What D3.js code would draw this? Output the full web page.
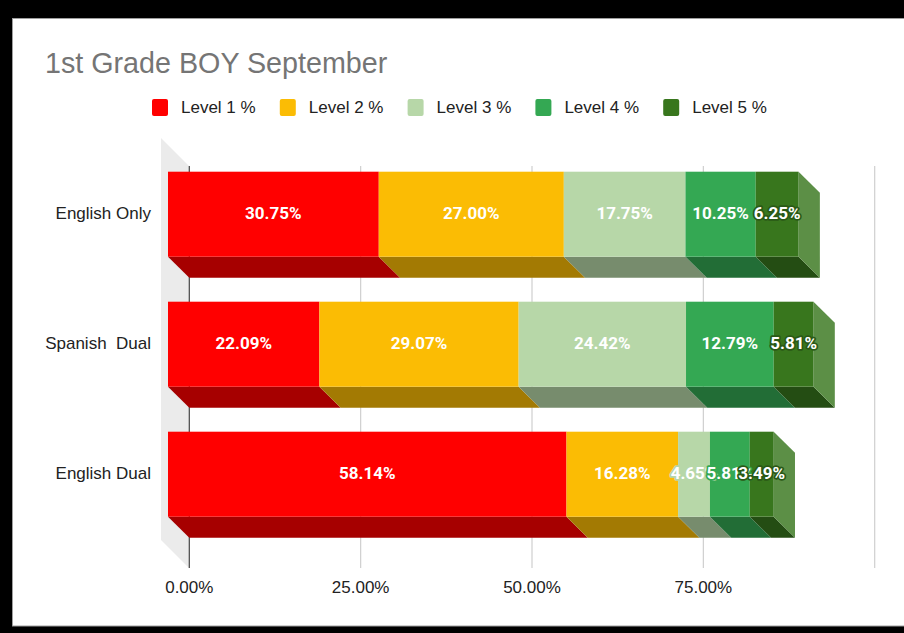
<!DOCTYPE html>
<html>
<head>
<meta charset="utf-8">
<script src="https://cdn.jsdelivr.net/npm/d3@7"></script>
<style>
  body { margin: 0; background: #000; }
  svg { display: block; }
  .title { font-family: "Liberation Sans", Arial, sans-serif; font-size: 28.7px; fill: #757575; }
  .legend text, .catLabel, .tickLabel { font-family: "Liberation Sans", Arial, sans-serif; font-size: 17px; fill: #222; }
  .valueLabel { font-family: Roboto, Arial, sans-serif; font-weight: bold; font-size: 17px; fill: #fff; paint-order: stroke; stroke-width: 3.5px; stroke-linejoin: round; }
</style>
</head>
<body>
<div id="chart"></div>
<script>
// data
const categories = ["English Only", "Spanish  Dual", "English Dual"];
const levels = ["Level 1 %", "Level 2 %", "Level 3 %", "Level 4 %", "Level 5 %"];
const colours = ["#ff0000", "#fbbc04", "#b7d7a8", "#34a853", "#38761d"];
const level1 = [30.75, 22.09, 58.14];
const level2 = [27.00, 29.07, 16.28];
const level3 = [17.75, 24.42, 4.65];
const level4 = [10.25, 12.79, 5.81];
const level5 = [6.25, 5.81, 3.49];
const tickValues = [0, 25, 50, 75, 100];
const tickLabels = ["0.00%", "25.00%", "50.00%", "75.00%", ""];

const series = [level1, level2, level3, level4, level5];

const width = 904, height = 633;
const depthX = 21.3, depthY = 21;   // 3d offset of the bars
const wallDepth = 28;

const svg = d3.select("#chart").append("svg")
  .attr("width", width)
  .attr("height", height);

// white sheet inside the black screenshot border
svg.append("rect")
  .attr("x", 12.5).attr("y", 18.5)
  .attr("width", width)
  .attr("height", 626 - 18.5)
  .style("fill", "#fff")
  .style("stroke", "#9e9e9e")
  .style("stroke-width", 1);

svg.append("text")
  .attr("class", "title")
  .attr("x", 45)
  .attr("y", 73)
  .text("1st Grade BOY September");

// legend
const legend = svg.append("g").attr("class", "legend")
  .selectAll("g")
  .data(levels)
  .enter()
  .append("g")
  .attr("transform", (d, i) => `translate(${152 + i * 127.8}, 99)`);

legend.append("rect")
  .attr("width", 16).attr("height", 17)
  .attr("rx", 2)
  .style("fill", (d, i) => colours[i]);

legend.append("text")
  .attr("x", 29)
  .attr("y", 14)
  .text(d => d);

// scales: x is the front plane of the bars
const x = d3.scaleLinear()
  .domain([0, 100])
  .range([168, 853.4]);

const y = d3.scaleBand()
  .domain(categories)
  .range([145.7, 542.7])
  .paddingInner(45 / 130)
  .paddingOuter(0.2);

const wallTop = y(categories[0]) - 33.7;
const wallBottom = wallTop + 402;

// left wall
const wx = x(0) - 7;
svg.append("path")
  .attr("d", `M${wx},${wallTop} L${wx + wallDepth},${wallTop + wallDepth} L${wx + wallDepth},${wallBottom + wallDepth} L${wx},${wallBottom} Z`)
  .style("fill", "#ebebeb");

// gridlines sit on the back plane
svg.selectAll("line.grid")
  .data(tickValues)
  .enter()
  .append("line")
  .attr("class", "grid")
  .attr("x1", d => x(d) + depthX)
  .attr("x2", d => x(d) + depthX)
  .attr("y1", wallTop + wallDepth)
  .attr("y2", wallBottom + wallDepth)
  .style("stroke", d => d == 0 ? "#444" : "#cfcfcf")
  .style("stroke-width", 1.2);

svg.selectAll("text.tickLabel")
  .data(tickValues)
  .enter()
  .append("text")
  .attr("class", "tickLabel")
  .attr("x", d => x(d) + depthX)
  .attr("y", 593)
  .style("text-anchor", "middle")
  .text((d, i) => tickLabels[i]);

// stacked segments
const segs = [];
categories.forEach((c, ci) => {
  let start = 0;
  series.forEach((s, li) => {
    segs.push({cat: c, level: li, value: s[ci], start: start, end: start + s[ci]});
    start += s[ci];
  });
});

const shade = (col, k) => {
  const c = d3.rgb(col);
  return d3.rgb(c.r * k, c.g * k, c.b * k);
};

const bh = y.bandwidth();

// bottom faces
svg.selectAll("path.bottom")
  .data(segs)
  .enter()
  .append("path")
  .attr("class", "bottom")
  .attr("d", d => {
    const x0 = x(d.start), x1 = x(d.end), yb = y(d.cat) + bh;
    return `M${x0},${yb} L${x1},${yb} L${x1 + depthX},${yb + depthY} L${x0 + depthX},${yb + depthY} Z`;
  })
  .style("fill", d => shade(colours[d.level], 0.65));

// right face of the last segment
svg.selectAll("path.side")
  .data(segs.filter(d => d.level == levels.length - 1))
  .enter()
  .append("path")
  .attr("class", "side")
  .attr("d", d => {
    const x1 = x(d.end), yt = y(d.cat);
    return `M${x1},${yt} L${x1 + depthX},${yt + depthY} L${x1 + depthX},${yt + bh + depthY} L${x1},${yt + bh} Z`;
  })
  .style("fill", d => d3.interpolateRgb(colours[d.level], "#fff")(0.18));

// front faces
svg.selectAll("rect.bar")
  .data(segs)
  .enter()
  .append("rect")
  .attr("class", "bar")
  .attr("x", d => x(d.start))
  .attr("y", d => y(d.cat))
  .attr("width", d => x(d.end) - x(d.start))
  .attr("height", bh)
  .style("fill", d => colours[d.level]);

svg.selectAll("text.catLabel")
  .data(categories)
  .enter()
  .append("text")
  .attr("class", "catLabel")
  .attr("x", 151)
  .attr("y", d => y(d) + bh / 2 - 1)
  .attr("dy", "0.35em")
  .style("text-anchor", "end")
  .style("white-space", "pre")
  .text(d => d);

// labels keep a halo of their own bar colour, as in the sheet
svg.selectAll("text.valueLabel")
  .data(segs)
  .enter()
  .append("text")
  .attr("class", "valueLabel")
  .attr("x", d => (x(d.start) + x(d.end)) / 2)
  .attr("y", d => y(d.cat) + bh / 2 - 1)
  .attr("dy", "0.35em")
  .style("text-anchor", "middle")
  .style("stroke", d => d.level == 4 ? shade(colours[d.level], 0.75) : colours[d.level])
  .text(d => d3.format(".2f")(d.value) + "%");
</script>
</body>
</html>
